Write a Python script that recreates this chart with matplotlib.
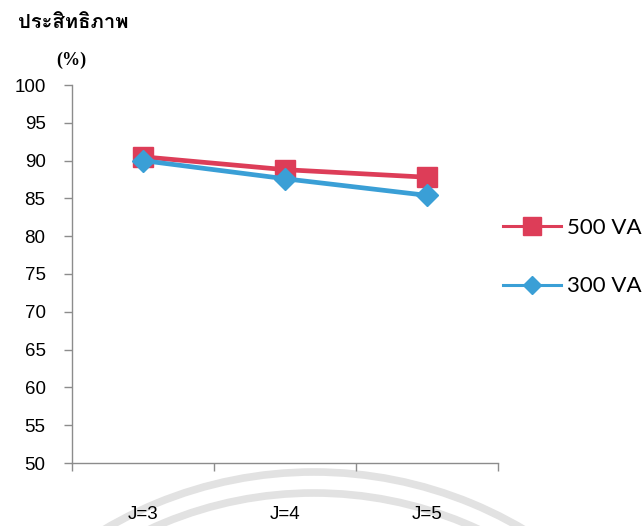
import matplotlib
matplotlib.use("Agg")
import matplotlib.pyplot as plt
from matplotlib import font_manager
from matplotlib.lines import Line2D
from matplotlib.patches import Arc

# ---- data -------------------------------------------------------------
categories = ["J=3", "J=4", "J=5"]
eff_500va = [90.5, 88.8, 87.8]
eff_300va = [90.0, 87.6, 85.4]
series_labels = ["500 VA", "300 VA"]
y_ticks = [50, 55, 60, 65, 70, 75, 80, 85, 90, 95, 100]
title_text = "ประสิทธิภาพ"
unit_text = "(%)"

RED = "#DD3D58"
BLUE = "#3A9FD6"
AXIS_GRAY = "#8C8C8C"


def thai_font():
    """Return the name of an installed font that covers Thai script."""
    try:
        from fontTools.ttLib import TTFont
    except ImportError:
        return None
    found = []
    for fe in font_manager.fontManager.ttflist:
        try:
            tt = TTFont(fe.fname, fontNumber=0, lazy=True)
            cmap = tt.getBestCmap() or {}
            if 0x0E1B in cmap and 0x0E34 in cmap:
                found.append(fe.name)
        except Exception:
            continue
    return found[0] if found else None


thai = thai_font()

fig = plt.figure(figsize=(6.42, 5.26), dpi=100)
fig.patch.set_facecolor("white")

# faint concentric arcs printed behind the chart
bg = fig.add_axes([0, 0, 1, 1], zorder=-5)
bg.set_xlim(0, 642)
bg.set_ylim(526, 0)
bg.axis("off")
for r in (412, 391):
    bg.add_patch(Arc((314, 884), 2 * r, 2 * r, theta1=0, theta2=360,
                     color="#E2E2E2", lw=5.5))

ax = fig.add_axes([72 / 642, 63 / 526, 426 / 642, 378 / 526])
ax.patch.set_alpha(0)

x = list(range(len(categories)))
ax.plot(x, eff_500va, color=RED, lw=3.4, marker="s", ms=14,
        markeredgecolor=RED, zorder=3)
ax.plot(x, eff_300va, color=BLUE, lw=3.4, marker="D", ms=11,
        markeredgecolor=BLUE, zorder=4)

ax.set_xlim(-0.5, len(categories) - 0.5)
ax.set_ylim(50, 100)

for s in ("top", "right"):
    ax.spines[s].set_visible(False)
for s in ("left", "bottom"):
    ax.spines[s].set_color(AXIS_GRAY)
    ax.spines[s].set_linewidth(1.0)

ax.set_yticks(y_ticks)
ax.set_yticklabels([str(v) for v in y_ticks], fontfamily="Liberation Sans",
                   fontsize=13.5)
ax.tick_params(axis="y", direction="out", length=6, width=1.0,
               color=AXIS_GRAY, pad=13)

# category boundaries carry the tick marks, labels sit at the centres
ax.set_xticks([i - 0.5 for i in range(len(categories) + 1)])
ax.set_xticklabels([])
ax.tick_params(axis="x", which="major", direction="out", length=6,
               width=1.0, color=AXIS_GRAY)
ax.set_xticks(x, minor=True)
ax.set_xticklabels(categories, minor=True, fontfamily="Liberation Sans",
                   fontsize=13.5)
ax.tick_params(axis="x", which="minor", length=0, pad=31)

title_family = [thai, "DejaVu Sans"] if thai else ["DejaVu Sans"]
fig.text(18 / 642, 1 - 22 / 526, title_text, family=title_family,
         fontsize=14.5, fontweight="bold", ha="left", va="center")
fig.text(71 / 642, 1 - 60 / 526, unit_text, family="Liberation Serif",
         fontsize=13, fontweight="bold", ha="center", va="center")

handles = [
    Line2D([], [], color=RED, lw=2.2, marker="s", ms=13),
    Line2D([], [], color=BLUE, lw=2.2, marker="D", ms=9),
]
fig.legend(handles, series_labels, loc="center left",
           bbox_to_anchor=(503 / 642, 1 - 257 / 526), frameon=False,
           prop={"family": "Lato", "size": 16}, handlelength=2.6,
           handletextpad=0.3, labelspacing=1.75, borderpad=0,
           borderaxespad=0)

fig.savefig("out.png", dpi=100, facecolor="white")
